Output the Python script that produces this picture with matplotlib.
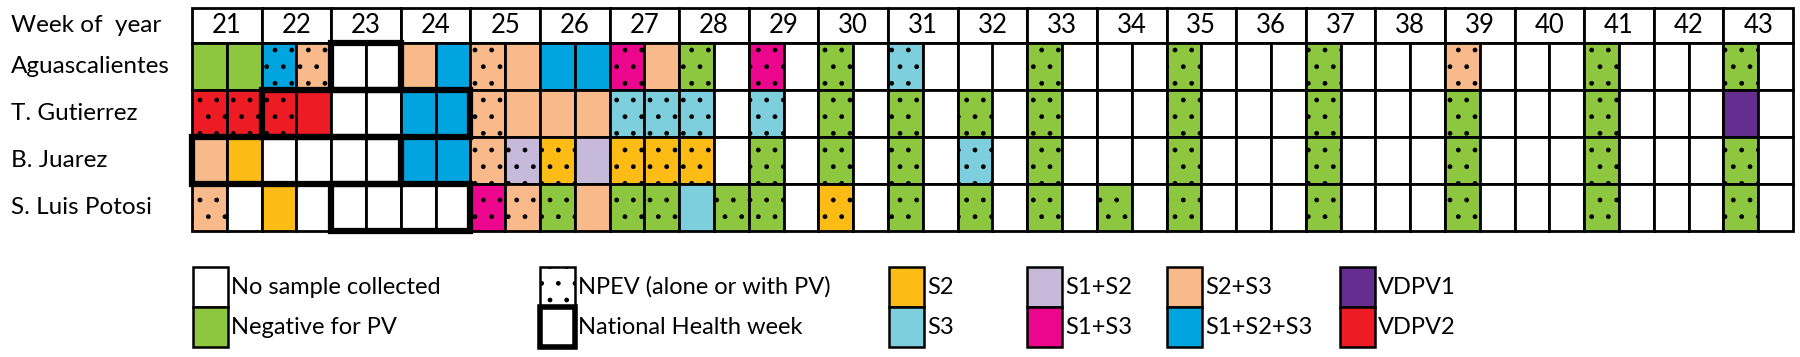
import matplotlib.pyplot as plt
from matplotlib import font_manager
from matplotlib.patches import Rectangle
from matplotlib.transforms import blended_transform_factory

plt.rcParams['font.family'] = ['Lato', 'DejaVu Sans']
plt.rcParams['hatch.linewidth'] = 1.0

# legend text in the original is a narrow face
installed = {f.name for f in font_manager.fontManager.ttflist}
if 'Liberation Sans Narrow' in installed:
    legend_font, legend_size = ['Liberation Sans Narrow', 'DejaVu Sans'], 20
else:
    legend_font, legend_size = ['Lato', 'DejaVu Sans'], 17

weeks = list(range(21, 44))
sites = ["Aguascalientes", "T. Gutierrez", "B. Juarez", "S. Luis Potosi"]

# two samples per week; "-" no sample, "N" negative, "." suffix = NPEV found
aguascalientes = ["N", "N", "123.", "23.", "-", "-", "23", "123", "23.", "23",
                  "123", "123", "13.", "23", "N.", "-", "13.", "-", "N.", "-",
                  "3.", "-", "-", "-", "N.", "-", "-", "-", "N.", "-",
                  "-", "-", "N.", "-", "-", "-", "23.", "-", "-", "-",
                  "N.", "-", "-", "-", "N.", "-"]
gutierrez = ["V2.", "V2.", "V2.", "V2", "-", "-", "123", "123", "23.", "23",
             "23", "23", "3.", "3.", "3.", "-", "3.", "-", "N.", "-",
             "N.", "-", "N.", "-", "N.", "-", "-", "-", "N.", "-",
             "-", "-", "N.", "-", "-", "-", "N.", "-", "-", "-",
             "N.", "-", "-", "-", "V1", "-"]
juarez = ["23", "2", "-", "-", "-", "-", "123", "123", "23.", "12.",
          "2.", "12", "2.", "2.", "2.", "-", "N.", "-", "N.", "-",
          "N.", "-", "3.", "-", "N.", "-", "-", "-", "N.", "-",
          "-", "-", "N.", "-", "-", "-", "N.", "-", "-", "-",
          "N.", "-", "-", "-", "N.", "-"]
potosi = ["23.", "-", "2", "-", "-", "-", "-", "-", "13.", "23.",
          "N.", "23", "N.", "N.", "3", "N.", "N.", "-", "2.", "-",
          "N.", "-", "N.", "-", "N.", "-", "N.", "-", "N.", "-",
          "-", "-", "N.", "-", "-", "-", "N.", "-", "-", "-",
          "N.", "-", "-", "-", "N.", "-"]
results = [aguascalientes, gutierrez, juarez, potosi]

# National Health week spans per site
nhw_first = [23, 22, 21, 23]
nhw_last = [23, 24, 23, 24]

colors = {
    "-": "white",
    "N": "#8DC63F",
    "2": "#FDBB16",
    "3": "#7DCFDE",
    "12": "#C6B9DA",
    "13": "#EC068D",
    "23": "#F9BA8B",
    "123": "#00A5DF",
    "V1": "#662D91",
    "V2": "#ED1C24",
}

legend_keys = [["-", "N"], ["npev", "nhw"], ["2", "3"], ["12", "13"],
               ["23", "123"], ["V1", "V2"]]
legend_labels = [["No sample collected", "Negative for PV"],
                 ["NPEV (alone or with PV)", "National Health week"],
                 ["S2", "S3"], ["S1+S2", "S1+S3"], ["S2+S3", "S1+S2+S3"],
                 ["VDPV1", "VDPV2"]]
legend_x = [193, 540, 889, 1027, 1167, 1340]

W, H = 1800, 357
fig = plt.figure(figsize=(W / 100, H / 100), dpi=100)

# legend drawn in pixel space
lax = fig.add_axes([0, 0, 1, 1])
lax.set_xlim(0, W)
lax.set_ylim(H, 0)
lax.axis('off')

bw, bh, by = 35, 40, 267
for x, keys, labels in zip(legend_x, legend_keys, legend_labels):
    for j, (k, lab) in enumerate(zip(keys, labels)):
        y = by + j * bh
        if k == "npev":
            p = Rectangle((x, y), bw, bh, fc="white", ec="black", lw=1.8, hatch='.')
        elif k == "nhw":
            p = Rectangle((x, y), bw, bh, fc="white", ec="black", lw=4)
        else:
            p = Rectangle((x, y), bw, bh, fc=colors[k], ec="black", lw=1.8)
        lax.add_patch(p)
        lax.text(x + bw + 3, y + bh / 2, lab, va='center', ha='left',
                 fontsize=legend_size, family=legend_font)

# main grid
hdr = 35 / 47
ax = fig.add_axes([192 / W, 1 - 231 / H, 1601 / W, 223 / H])
ax.set_xlim(0, 2 * len(weeks))
ax.set_ylim(len(sites), -hdr)
ax.axis('off')

for k, w in enumerate(weeks):
    ax.add_patch(Rectangle((2 * k, -hdr), 2, hdr, fc="white", ec="black",
                           lw=2, clip_on=False))
    ax.text(2 * k + 1, -hdr / 2, str(w), ha='center', va='center', fontsize=18.5)

for r, res in enumerate(results):
    for i, code in enumerate(res):
        dotted = code.endswith('.')
        key = code.rstrip('.')
        ax.add_patch(Rectangle((i, r), 1, 1, fc=colors[key], ec="black", lw=2,
                               hatch='.' if dotted else None, clip_on=False))

for r, (a, b) in enumerate(zip(nhw_first, nhw_last)):
    x0 = 2 * (a - weeks[0])
    ax.add_patch(Rectangle((x0, r), 2 * (b - a + 1), 1, fill=False, ec="black",
                           lw=4.5, zorder=5, clip_on=False))

trans = blended_transform_factory(fig.transFigure, ax.transData)
ax.text(11 / W, -hdr / 2, "Week of  year", transform=trans, va='center',
        ha='left', fontsize=17.5)
for r, name in enumerate(sites):
    ax.text(11 / W, r + 0.5, name, transform=trans, va='center', ha='left',
            fontsize=17.5)

fig.savefig("out.png", dpi=100)
